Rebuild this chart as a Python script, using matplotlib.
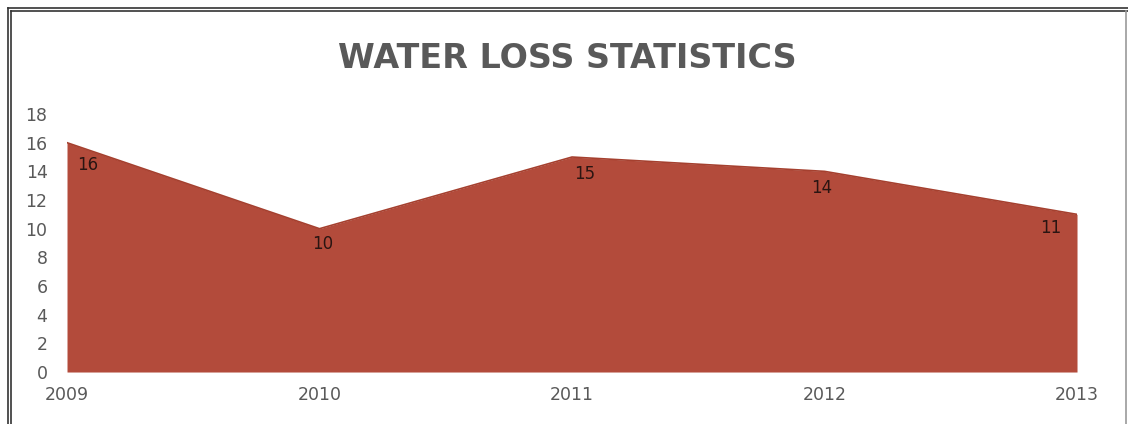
import matplotlib.pyplot as plt
from matplotlib.lines import Line2D

years = ['2009', '2010', '2011', '2012', '2013']
water_loss = [16, 10, 15, 14, 11]

# nudges (in points) for the value labels so they sit just under the ridge
label_offsets = [(15, -16), (2, -11), (9, -12), (-2, -12), (-19, -10)]

fill_color = '#B34B3B'
text_gray = '#595959'

fig = plt.figure(figsize=(11.28, 4.24), dpi=100)
axe = fig.add_axes([0.0594, 0.1226, 0.8954, 0.6085])

x = list(range(len(years)))
axe.fill_between(x, 0, water_loss, color=fill_color, linewidth=0)
axe.plot(x, water_loss, color='#A5402F', linewidth=1.2)

for xi, val, off in zip(x, water_loss, label_offsets):
    axe.annotate(str(val), (xi, val), xytext=off, textcoords='offset points',
                 ha='center', va='center', fontsize=12, color='#2a1512')

axe.set_xlim(0, len(years) - 1)
axe.set_ylim(0, 18)
axe.set_yticks(range(0, 19, 2))
axe.set_xticks(x)
axe.set_xticklabels(years)
axe.tick_params(axis='both', length=0, labelsize=12.5, colors=text_gray)
axe.tick_params(axis='x', pad=10)
axe.tick_params(axis='y', pad=14)
for spine in axe.spines.values():
    spine.set_visible(False)

fig.text(0.503, 0.862, 'WATER LOSS STATISTICS', ha='center', va='center',
         fontsize=24, fontweight='bold', color=text_gray)

# chart frame: double rule on top and left, thin rule on the right
W, H = 1128, 424
for p in (8, 11):
    fig.add_artist(Line2D([p / W, 1], [1 - p / H, 1 - p / H], color='#333333', linewidth=1.2))
    fig.add_artist(Line2D([p / W, p / W], [0, 1 - p / H], color='#333333', linewidth=1.2))
fig.add_artist(Line2D([1126 / W, 1126 / W], [0, 1 - 11 / H], color='#999999', linewidth=1.2))

fig.savefig('out.png', dpi=100)
